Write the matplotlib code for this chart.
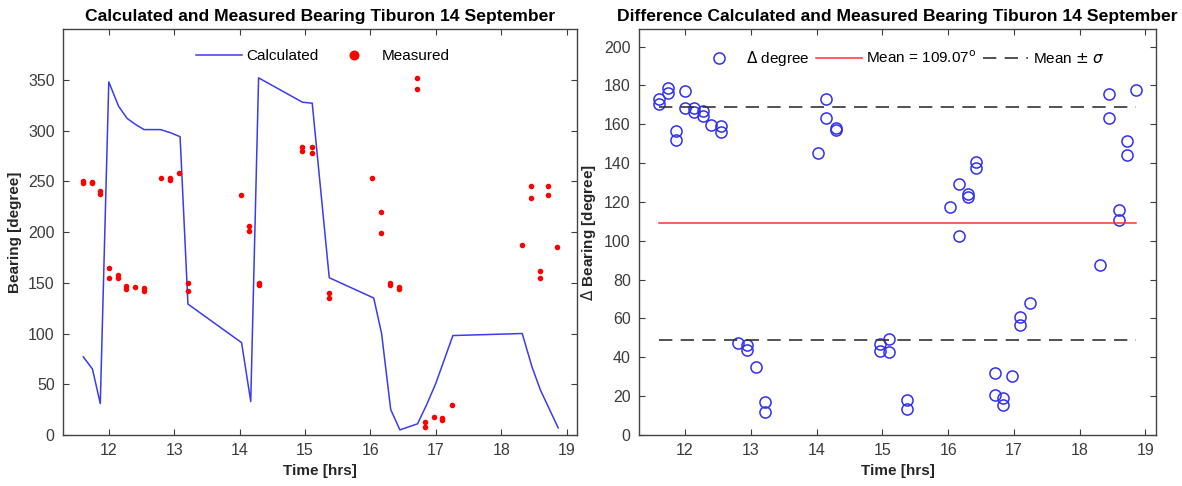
import numpy as np
import matplotlib
matplotlib.use("Agg")
import matplotlib.pyplot as plt

plt.rcParams['font.family'] = ['Liberation Sans', 'DejaVu Sans']
plt.rcParams['mathtext.fontset'] = 'dejavusans'

# calculated bearing (blue line)
calc_time = [11.61, 11.75, 11.87, 12.0, 12.15, 12.28, 12.41, 12.54, 12.79, 12.94, 13.09,
             13.21, 14.03, 14.17, 14.29, 14.96, 15.11, 15.37, 16.05, 16.17, 16.31, 16.45,
             16.72, 16.86, 17.0, 17.26, 18.32, 18.47, 18.60, 18.87]
calc_bearing = [77, 65, 31, 348, 324, 312, 306, 301, 301, 298, 294,
                129, 91, 33, 352, 328, 327, 155, 135, 100, 25, 5,
                11, 30, 51, 98, 100, 67, 44, 7]

# measured bearing (red dots) and difference (blue circles)
meas_time = [11.61, 11.61, 11.74, 11.74, 11.87, 11.87, 12.0, 12.0, 12.14, 12.14,
             12.27, 12.27, 12.40, 12.54, 12.54, 12.80, 12.94, 12.94, 13.08, 13.21, 13.21,
             14.02, 14.15, 14.15, 14.29, 14.29, 14.96, 14.96, 15.10, 15.10, 15.37, 15.37,
             16.03, 16.16, 16.16, 16.30, 16.30, 16.43, 16.43, 16.71, 16.71, 16.84, 16.84,
             16.97, 17.10, 17.10, 17.24, 18.31, 18.45, 18.45, 18.59, 18.59, 18.72, 18.72,
             18.85]
meas_bearing = [250, 248, 249, 248, 240, 238, 165, 155, 158, 155,
                147, 144, 146, 145, 142, 253, 253, 251, 258, 150, 142,
                237, 206, 201, 150, 148, 284, 280, 284, 278, 140, 135,
                253, 220, 199, 150, 148, 146, 144, 352, 341.5, 13, 8,
                18, 17, 15, 30, 187, 245, 234, 162, 155, 245, 237,
                185]
diff_bearing = [172.8, 170.5, 178.7, 176, 156.8, 151.7, 177.4, 168.3, 168.3, 166.3,
                166.6, 164.2, 159.7, 158.9, 155.9, 47.5, 46.3, 44, 35.1, 17.1, 12,
                145.1, 172.8, 163, 158, 157, 47.1, 43.2, 49.2, 42.5, 18, 13.2,
                117.4, 129.4, 102.5, 124.3, 122.6, 140.5, 137.6, 32, 20.4, 18.9, 15.4,
                30.5, 60.8, 56.4, 68.2, 87.4, 175.7, 163.3, 115.7, 110.5, 151.3, 144.1,
                177.9]
mean_val = 109.07
sigma_val = 60.0

fig = plt.figure(figsize=(11.82, 4.86), dpi=100)
ax1 = fig.add_axes([0.0533, 0.105, 0.435, 0.835])
ax2 = fig.add_axes([0.5406, 0.105, 0.4374, 0.835])

tick_col = '#3c3c3c'
for ax in (ax1, ax2):
    ax.set_xlim(11.3, 19.16)
    ax.set_xticks(range(12, 20))
    ax.tick_params(direction='in', top=True, right=True, length=4, width=0.8,
                   colors=tick_col, labelsize=11.5, pad=6)
    for s in ax.spines.values():
        s.set_color('#444444')
        s.set_linewidth(1.0)
    ax.set_xlabel('Time [hrs]', fontsize=11, fontweight='bold', color='#262626')

# left panel
ax1.plot(calc_time, calc_bearing, color='#3b3bf0', lw=1.1, label='Calculated')
ax1.plot(meas_time, meas_bearing, 'o', color='#ff0000', ms=4, mec='none', label='Measured')
ax1.set_ylim(0, 400)
ax1.set_yticks(range(0, 351, 50))
ax1.set_ylabel('Bearing [degree]', fontsize=11, fontweight='bold', color='#262626')
ax1.set_title('Calculated and Measured Bearing Tiburon 14 September',
              fontsize=12.6, fontweight='bold', pad=6)
ax1.legend(loc='upper center', bbox_to_anchor=(0.505, 0.985), ncol=2, frameon=False,
           fontsize=11, handlelength=3.0, columnspacing=0.8, handletextpad=0.3,
           markerscale=1.8)

# right panel
t0, t1 = min(meas_time), max(meas_time)
ax2.plot(meas_time, diff_bearing, 'o', mfc='none', mec='#3030f0', ms=8, mew=1.1,
         label=r'$\Delta$ degree')
ax2.plot([t0, t1], [mean_val, mean_val], color='#ff3030', lw=1.1,
         label='Mean = 109.07$^{\\mathrm{o}}$')
ax2.plot([t0, t1], [mean_val + sigma_val] * 2, '--', color='#333333', lw=1.2,
         dashes=(8, 5), label=r'Mean $\pm$ $\sigma$')
ax2.plot([t0, t1], [mean_val - sigma_val] * 2, '--', color='#333333', lw=1.2,
         dashes=(8, 5))
ax2.set_ylim(0, 209)
ax2.set_yticks(range(0, 201, 20))
ax2.set_ylabel(r'$\Delta$ Bearing [degree]', fontsize=11, fontweight='bold', color='#262626')
ax2.set_title('Difference Calculated and Measured Bearing Tiburon 14 September',
              fontsize=12.6, fontweight='bold', pad=6)
ax2.legend(loc='upper center', bbox_to_anchor=(0.505, 0.985), ncol=3, frameon=False,
           fontsize=11, handlelength=3.0, columnspacing=0.4, handletextpad=0.3)

fig.savefig('out.png', dpi=100)
